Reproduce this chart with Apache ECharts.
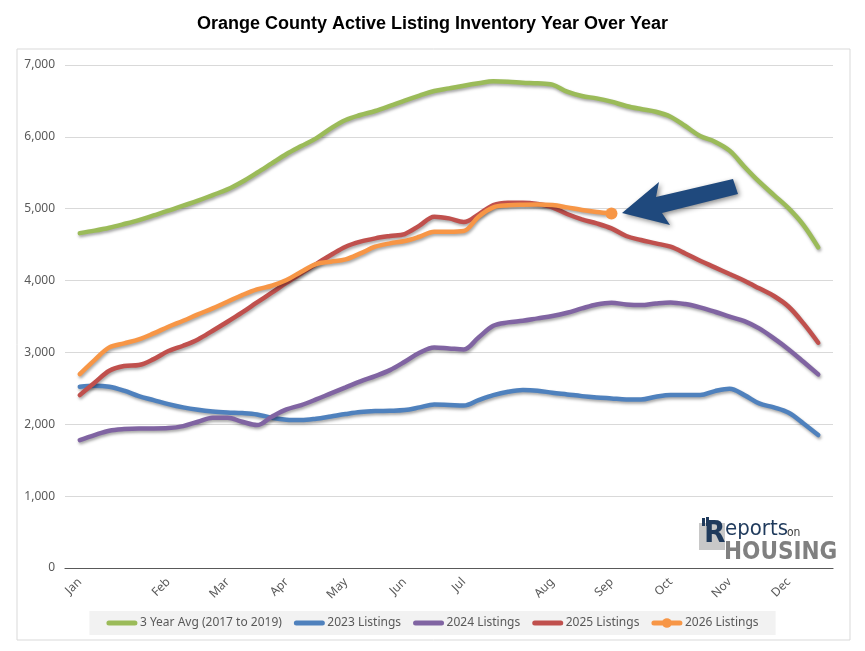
<!DOCTYPE html>
<html>
<head>
<meta charset="utf-8">
<script src="https://cdn.jsdelivr.net/npm/echarts@6/dist/echarts.min.js"></script>
<style>
  html, body { margin: 0; padding: 0; background: #fff; }
  #chart { width: 865px; height: 651px; }
</style>
</head>
<body>
<div id="chart"></div>
<script>
// weekly points, month label shown at the first week of each month
var monthLabels = ['Jan', 'Feb', 'Mar', 'Apr', 'May', 'Jun', 'Jul', 'Aug', 'Sep', 'Oct', 'Nov', 'Dec'];
var monthWeeks = [0, 6, 10, 14, 18, 22, 26, 32, 36, 40, 44, 48];
var yTicks = [0, 1000, 2000, 3000, 4000, 5000, 6000, 7000];

var avg3yr = [4660, 4695, 4736, 4787, 4842, 4907, 4972, 5042, 5112, 5190,
  5269, 5376, 5501, 5631, 5761, 5872, 5979, 6118, 6234, 6304,
  6360, 6430, 6504, 6573, 6638, 6675, 6712, 6745, 6773, 6768,
  6754, 6745, 6726, 6629, 6568, 6536, 6490, 6430, 6387, 6350,
  6281, 6151, 6012, 5933, 5808, 5585, 5376, 5190, 5005, 4773, 4462];
var listings2023 = [2522, 2536, 2522, 2467, 2392, 2337, 2281, 2235, 2202, 2179,
  2165, 2156, 2137, 2091, 2063, 2058, 2077, 2109, 2142, 2170,
  2184, 2188, 2198, 2235, 2277, 2270, 2262, 2337, 2406, 2453,
  2476, 2467, 2439, 2416, 2392, 2374, 2360, 2346, 2346, 2383,
  2406, 2406, 2406, 2462, 2495, 2406, 2290, 2235, 2161, 2012, 1850];
var listings2024 = [1780, 1850, 1910, 1933, 1942, 1942, 1947, 1975, 2035, 2091,
  2091, 2035, 1989, 2105, 2207, 2268, 2346, 2430, 2513, 2597,
  2671, 2754, 2870, 2996, 3070, 3056, 3042, 3209, 3371, 3418,
  3441, 3474, 3506, 3552, 3613, 3668, 3692, 3668, 3659, 3682,
  3696, 3673, 3627, 3566, 3497, 3436, 3334, 3195, 3042, 2870, 2694];
var listings2025 = [2406, 2578, 2745, 2810, 2824, 2907, 3019, 3093, 3181, 3302,
  3427, 3557, 3696, 3831, 3970, 4100, 4230, 4355, 4471, 4541,
  4587, 4620, 4648, 4764, 4889, 4866, 4815, 4921, 5051, 5084,
  5084, 5065, 5019, 4926, 4852, 4796, 4726, 4620, 4564, 4518,
  4471, 4378, 4276, 4184, 4091, 3998, 3892, 3785, 3636, 3404, 3135];
var listings2026 = [2699, 2894, 3070, 3126, 3181, 3265, 3358, 3441, 3529, 3613,
  3706, 3798, 3877, 3928, 4007, 4123, 4230, 4262, 4295, 4378,
  4471, 4518, 4550, 4610, 4680, 4680, 4690, 4889, 5019, 5047,
  5056, 5060, 5051, 5019, 4982, 4954, 4935];

var seriesNames = ['3 Year Avg (2017 to 2019)', '2023 Listings', '2024 Listings', '2025 Listings', '2026 Listings'];
var seriesColors = ['#9bbb59', '#4f81bd', '#8064a2', '#c0504d', '#f79646'];
var seriesValues = [avg3yr, listings2023, listings2024, listings2025, listings2026];

var chart = echarts.init(document.getElementById('chart'));

function toPoints(values, markLast) {
  return values.map(function (v, i) {
    if (markLast && i !== values.length - 1) {
      return { value: [i, v], symbol: 'none' };
    }
    return [i, v];
  });
}

var series = seriesValues.map(function (values, k) {
  var isCurrent = k === seriesValues.length - 1;
  return {
    name: seriesNames[k],
    type: 'line',
    smooth: 0.35,
    symbol: isCurrent ? 'circle' : 'none',
    symbolSize: 12,
    z: 2 + k,
    lineStyle: {
      width: 4.5,
      color: seriesColors[k],
      cap: 'round',
      shadowColor: 'rgba(0,0,0,0.35)',
      shadowBlur: 3,
      shadowOffsetX: 1,
      shadowOffsetY: 2
    },
    itemStyle: { color: seriesColors[k] },
    emphasis: { disabled: true },
    data: toPoints(values, isCurrent)
  };
});

// legend: plain thick lines, only the current year keeps its marker
var legendData = seriesNames.map(function (name, k) {
  var item = { name: name, lineStyle: { width: 5, shadowBlur: 0, shadowOffsetX: 0, shadowOffsetY: 0 } };
  if (k !== seriesNames.length - 1) {
    item.itemStyle = { opacity: 0 };
  }
  return item;
});

var option = {
  backgroundColor: '#ffffff',
  animation: false,
  textStyle: { fontFamily: 'Liberation Sans, Arial, sans-serif' },
  title: {
    text: 'Orange County Active Listing Inventory Year Over Year',
    left: 'center',
    top: 10,
    textStyle: { fontSize: 18, fontWeight: 'bold', color: '#000' }
  },
  grid: { left: 65, right: 32, top: 65, bottom: 83 },
  legend: {
    bottom: 16,
    left: 'center',
    backgroundColor: '#f2f2f2',
    padding: [6, 17],
    itemWidth: 26,
    itemHeight: 12,
    itemGap: 12,
    textStyle: { fontSize: 12, color: '#595959', fontFamily: 'Noto Sans, sans-serif' },
    data: legendData
  },
  xAxis: {
    type: 'value',
    min: -1,
    max: 51,
    interval: 1,
    splitLine: { show: false },
    axisTick: { show: false },
    axisLine: { show: true, onZero: false, lineStyle: { color: '#595959', width: 1.2 } },
    axisLabel: {
      rotate: 45,
      margin: 12,
      fontSize: 12,
      color: '#595959',
      fontFamily: 'Noto Sans, sans-serif',
      formatter: function (v) {
        var idx = monthWeeks.indexOf(v);
        return idx >= 0 ? monthLabels[idx] : '';
      }
    }
  },
  yAxis: {
    type: 'value',
    min: yTicks[0],
    max: yTicks[yTicks.length - 1],
    interval: 1000,
    axisLine: { show: false },
    axisTick: { show: false },
    splitLine: { lineStyle: { color: '#d9d9d9', width: 1 } },
    axisLabel: {
      margin: 10,
      fontSize: 12,
      color: '#595959',
      fontFamily: 'Noto Sans, sans-serif',
      formatter: function (v) { return v.toLocaleString('en-US'); }
    }
  },
  graphic: [
    // outer chart frame
    {
      type: 'rect', z: -10, silent: true,
      shape: { x: 17, y: 49, width: 833, height: 591 },
      style: { fill: 'none', stroke: '#d9d9d9', lineWidth: 1 }
    },
    // callout arrow toward the latest 2026 point
    {
      type: 'polygon', z: 20, silent: true,
      shape: { points: [[622, 213], [659, 182], [656, 197], [733, 179], [738, 194], [662, 213], [670, 225]] },
      style: {
        fill: '#1f497d',
        shadowColor: 'rgba(0,0,0,0.45)', shadowBlur: 5, shadowOffsetX: 2, shadowOffsetY: 2
      }
    },
    // Reports on Housing logo
    {
      type: 'group', z: 20, silent: true, left: 699, top: 517,
      children: [
        { type: 'rect', shape: { x: 1, y: 6, width: 26, height: 27 }, style: { fill: '#c8c8c8' } },
        { type: 'rect', shape: { x: 4, y: 1, width: 3, height: 8 }, style: { fill: '#1f3a5c' } },
        { type: 'rect', shape: { x: 8, y: 0, width: 3, height: 9 }, style: { fill: '#1f3a5c' } },
        {
          type: 'text', x: 6, y: 1,
          style: { text: 'R', fontSize: 31, fontWeight: 'bold', fill: '#1f3a5c', fontFamily: 'DejaVu Sans Condensed' }
        },
        {
          type: 'text', x: 27, y: 1,
          style: { text: 'eports', fontSize: 22, fill: '#1f3a5c', fontFamily: 'DejaVu Sans Condensed' }
        },
        {
          type: 'text', x: 89, y: 10,
          style: { text: 'on', fontSize: 12, fill: '#404040', fontFamily: 'DejaVu Sans Condensed' }
        },
        {
          type: 'text', x: 26, y: 24,
          style: { text: 'HOUSING', fontSize: 24, fontWeight: 'bold', fill: '#808080', fontFamily: 'DejaVu Sans Condensed' }
        }
      ]
    }
  ],
  series: series
};

chart.setOption(option);
</script>
</body>
</html>
